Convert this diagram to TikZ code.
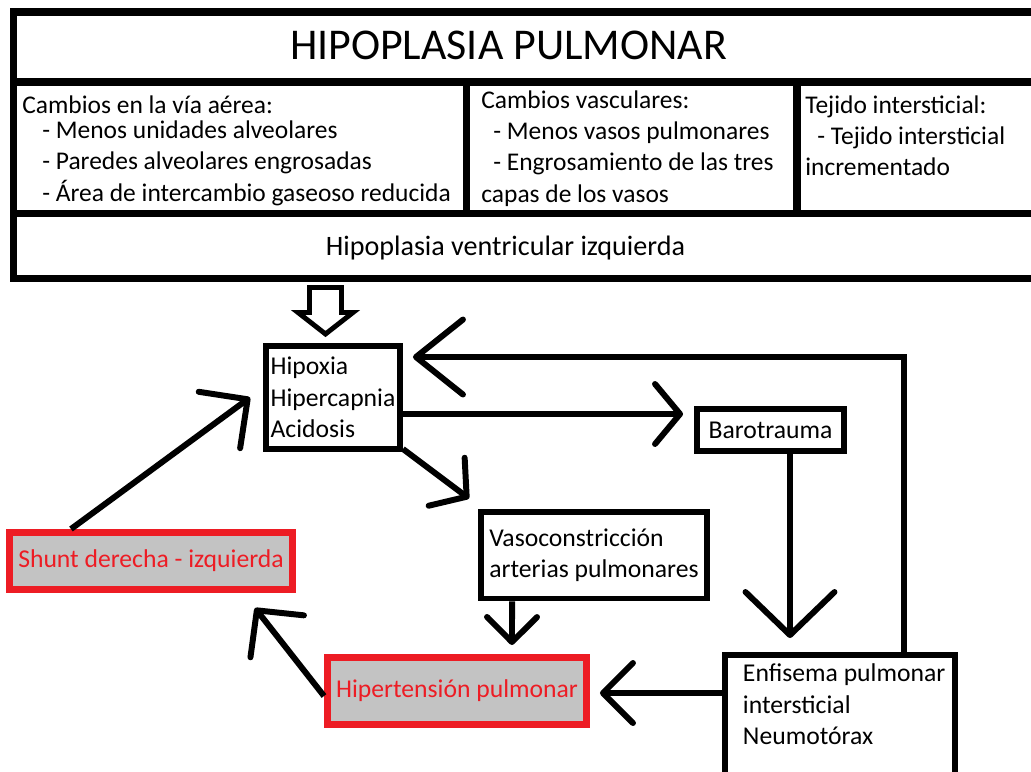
\documentclass[tikz,border=0pt]{standalone}
\usepackage{fontspec}
\setmainfont{Carlito}
\usetikzlibrary{arrows.meta}
\definecolor{paintred}{RGB}{237,28,36}
\definecolor{paintgrey}{RGB}{195,195,195}
\tikzset{
    frame/.style =  {draw=black,
                    line width=4pt},
    cell/.style =   {inner sep=0pt,
                    align=left,
                    text=black,
                    font=\fontsize{14.5}{17.9}\selectfont},
    cause/.style =  {rectangle,
                    fill=white,
                    draw=black,
                    text=black,
                    line width=3.4pt,
                    align=left,
                    inner sep=0pt,
                    font=\fontsize{14.6}{17.9}\selectfont},
    shunted/.style = {rectangle,
                    fill=paintgrey,
                    draw=paintred,
                    text=paintred,
                    line width=4pt,
                    inner sep=0pt,
                    font=\fontsize{14.6}{17.9}\selectfont},
    flow/.style 2 args = {draw=black,
                    line width=3.4pt,
                    -{Straight Barb[length=#1,width=#2,round]}},
}

\begin{document}
\begin{tikzpicture}[x=0.02cm, y=-0.02cm]
    \useasboundingbox (0,0) rectangle (1031,771);
    % table
    \draw[frame] (1045,12) -- (13.5,12) -- (13.5,278.5) -- (1045,278.5);
    \draw[frame] (13.5,82) -- (1045,82);
    \draw[frame] (13.5,213.5) -- (1045,213.5);
    \draw[frame] (466.5,82) -- (466.5,213.5);
    \draw[frame] (797,82) -- (797,213.5);
    \node[] (title) at (508.5,45) {\fontsize{25}{30}\selectfont HIPOPLASIA PULMONAR};
    \node[cell] (airway) [anchor=north west] at (22,95) {Cambios en la vía aérea:\\[-3.5pt]
        \hspace*{0.4cm}- Menos unidades alveolares\\
        \hspace*{0.4cm}- Paredes alveolares engrosadas\\
        \hspace*{0.4cm}- Área de intercambio gaseoso reducida};
    \node[cell] (vessels) [anchor=north west] at (481,90) {Cambios vasculares:\\
        \hspace*{0.24cm}- Menos vasos pulmonares\\
        \hspace*{0.24cm}- Engrosamiento de las tres\\
        capas de los vasos};
    \node[cell] (tissue) [anchor=north west] at (805,95) {Tejido intersticial:\\
        \hspace*{0.24cm}- Tejido intersticial\\
        incrementado};
    \node[] (heart) [anchor=base] at (505.5,255) {\fontsize{16}{19}\selectfont Hipoplasia ventricular izquierda};
    \draw[line width=2.8pt, line join=miter] (309.5,287.5) -- (341.5,287.5) -- (341.5,312.5) -- (353,312.5)
        -- (325.5,334) -- (298,312.5) -- (309.5,312.5) -- cycle;
    % cycle
    \node[cause, minimum width=2.68cm, minimum height=2.06cm] (hipox) at (333,397.5) {Hipoxia\\Hipercapnia\\Acidosis};
    \node[cause, minimum width=2.94cm, minimum height=0.84cm] (baro) at (770.5,430) {Barotrauma};
    \node[cause, minimum width=4.52cm, minimum height=1.74cm] (vaso) at (594,555) {Vasoconstricción\\arterias pulmonares};
    \node[cause, minimum width=4.6cm, inner xsep=0.36cm, inner ysep=0.18cm] (enf) [anchor=north west] at (722,652)
        {\parbox[c][2.5cm][t]{3.88cm}{\raggedright\mbox{Enfisema pulmonar}\\intersticial\\Neumotórax}};
    \node[shunted, minimum width=5.18cm, minimum height=1.34cm] (hiper) at (457,691) {Hipertensión pulmonar};
    \node[shunted, minimum width=5.66cm, minimum height=1.14cm] (shunt) at (151,561) {Shunt derecha - izquierda};
    \draw[flow={0.94cm}{1.5cm}] ([xshift=3.64cm]enf.north west) |- ([xshift=0.2cm, yshift=-0.28cm]hipox.north east);
    \draw[flow={0.5cm}{1.2cm}] ([yshift=-0.33cm]hipox.east) -- ([xshift=-0.22cm, yshift=0.32cm]baro.west);
    \draw[flow={0.5cm}{1.2cm}] ([yshift=0.06cm]hipox.south east) -- ([xshift=-0.18cm, yshift=0.2cm]vaso.north west);
    \draw[flow={0.86cm}{1.78cm}] ([xshift=0.39cm]baro.south) -- ([xshift=1.36cm, yshift=0.28cm]enf.north west);
    \draw[flow={0.5cm}{1.0cm}] ([xshift=0.68cm]vaso.south west) -- ([xshift=3.76cm, yshift=0.18cm]hiper.north west);
    \draw[flow={0.6cm}{1.2cm}] ([yshift=-0.82cm]enf.north west) -- ([xshift=0.2cm, yshift=-0.04cm]hiper.east);
    \draw[flow={0.66cm}{1.36cm}] ([yshift=-0.1cm]hiper.west) -- ([xshift=-0.82cm, yshift=-0.3cm]shunt.south east);
    \draw[flow={0.7cm}{1.4cm}] ([xshift=1.3cm]shunt.north west) -- ([xshift=-0.26cm]hipox.west);
\end{tikzpicture}
\end{document}
